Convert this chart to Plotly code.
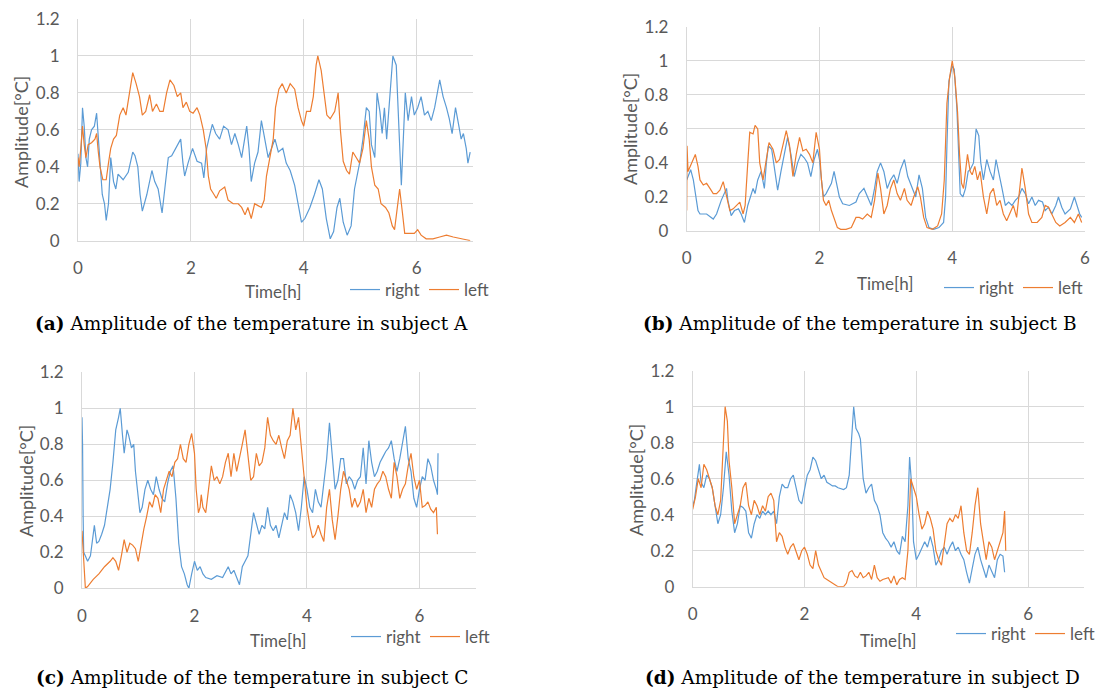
import plotly.graph_objects as go

# ---------------- data ----------------
a_right_t = [0, 0.02, 0.05, 0.08, 0.11, 0.14, 0.17, 0.2, 0.24, 0.29, 0.33, 0.36, 0.39, 0.43, 0.47, 0.5, 0.54, 0.58, 0.63, 0.67, 0.71, 0.8, 0.89, 0.97, 1.01, 1.06, 1.1, 1.14, 1.22, 1.31, 1.36, 1.42, 1.49, 1.54, 1.6, 1.66, 1.73, 1.82, 1.86, 1.89, 1.95, 2.03, 2.11, 2.19, 2.23, 2.28, 2.34, 2.38, 2.44, 2.51, 2.58, 2.66, 2.72, 2.78, 2.84, 2.9, 2.99, 3.03, 3.07, 3.13, 3.19, 3.25, 3.31, 3.37, 3.43, 3.49, 3.55, 3.63, 3.69, 3.76, 3.84, 3.9, 3.96, 4.02, 4.11, 4.19, 4.27, 4.33, 4.4, 4.47, 4.53, 4.59, 4.64, 4.7, 4.77, 4.84, 4.9, 4.99, 5.05, 5.11, 5.16, 5.2, 5.26, 5.3, 5.35, 5.39, 5.43, 5.47, 5.52, 5.58, 5.64, 5.67, 5.7, 5.73, 5.8, 5.85, 5.91, 5.96, 6.02, 6.08, 6.14, 6.2, 6.26, 6.32, 6.41, 6.47, 6.53, 6.58, 6.63, 6.69, 6.75, 6.79, 6.83, 6.88, 6.91, 6.95]
a_right_v = [0.47, 0.32, 0.42, 0.72, 0.62, 0.45, 0.40, 0.55, 0.60, 0.62, 0.69, 0.55, 0.40, 0.25, 0.20, 0.11, 0.20, 0.45, 0.32, 0.28, 0.36, 0.33, 0.37, 0.48, 0.46, 0.40, 0.25, 0.16, 0.25, 0.38, 0.32, 0.28, 0.15, 0.30, 0.45, 0.46, 0.50, 0.55, 0.42, 0.35, 0.42, 0.50, 0.43, 0.42, 0.34, 0.50, 0.58, 0.63, 0.58, 0.55, 0.62, 0.60, 0.52, 0.58, 0.52, 0.45, 0.62, 0.50, 0.32, 0.42, 0.48, 0.65, 0.55, 0.45, 0.50, 0.55, 0.48, 0.50, 0.42, 0.38, 0.30, 0.20, 0.10, 0.12, 0.18, 0.25, 0.33, 0.28, 0.12, 0.01, 0.05, 0.18, 0.23, 0.10, 0.03, 0.08, 0.28, 0.42, 0.55, 0.72, 0.70, 0.52, 0.45, 0.80, 0.70, 0.58, 0.72, 0.55, 0.78, 1.00, 0.95, 0.70, 0.45, 0.30, 0.80, 0.65, 0.78, 0.68, 0.72, 0.78, 0.68, 0.70, 0.65, 0.72, 0.87, 0.78, 0.72, 0.66, 0.58, 0.72, 0.62, 0.55, 0.58, 0.50, 0.42, 0.48]

a_left_t = [0, 0.02, 0.05, 0.08, 0.11, 0.14, 0.18, 0.24, 0.3, 0.33, 0.36, 0.39, 0.44, 0.5, 0.54, 0.58, 0.63, 0.68, 0.74, 0.8, 0.85, 0.89, 0.97, 1.03, 1.09, 1.14, 1.2, 1.27, 1.32, 1.39, 1.45, 1.51, 1.57, 1.63, 1.7, 1.76, 1.82, 1.86, 1.92, 1.98, 2.04, 2.11, 2.16, 2.22, 2.27, 2.31, 2.35, 2.41, 2.45, 2.51, 2.6, 2.66, 2.75, 2.84, 2.9, 2.96, 3.01, 3.07, 3.13, 3.19, 3.25, 3.3, 3.34, 3.4, 3.46, 3.5, 3.56, 3.62, 3.69, 3.76, 3.84, 3.9, 3.96, 4.0, 4.05, 4.12, 4.17, 4.22, 4.25, 4.31, 4.37, 4.41, 4.47, 4.55, 4.61, 4.65, 4.7, 4.76, 4.81, 4.87, 4.93, 4.99, 5.05, 5.11, 5.16, 5.2, 5.26, 5.32, 5.37, 5.45, 5.51, 5.57, 5.61, 5.65, 5.7, 5.75, 5.79, 5.88, 5.96, 6.02, 6.08, 6.17, 6.29, 6.41, 6.53, 6.65, 6.77, 6.88, 6.95]
a_left_v = [0.45, 0.40, 0.50, 0.62, 0.52, 0.45, 0.52, 0.53, 0.55, 0.58, 0.48, 0.40, 0.33, 0.33, 0.42, 0.50, 0.55, 0.57, 0.68, 0.72, 0.68, 0.75, 0.91, 0.85, 0.78, 0.68, 0.70, 0.79, 0.70, 0.74, 0.70, 0.70, 0.80, 0.87, 0.84, 0.78, 0.80, 0.72, 0.75, 0.70, 0.69, 0.72, 0.68, 0.60, 0.50, 0.35, 0.28, 0.25, 0.23, 0.27, 0.29, 0.22, 0.20, 0.20, 0.18, 0.14, 0.18, 0.12, 0.20, 0.19, 0.18, 0.22, 0.35, 0.45, 0.55, 0.72, 0.82, 0.85, 0.80, 0.85, 0.82, 0.72, 0.65, 0.62, 0.70, 0.70, 0.78, 0.95, 1.00, 0.92, 0.78, 0.68, 0.66, 0.70, 0.80, 0.60, 0.43, 0.38, 0.36, 0.48, 0.45, 0.42, 0.50, 0.65, 0.55, 0.40, 0.30, 0.28, 0.20, 0.18, 0.15, 0.08, 0.06, 0.15, 0.28, 0.15, 0.04, 0.04, 0.04, 0.06, 0.03, 0.01, 0.01, 0.02, 0.03, 0.02, 0.01, 0.005, 0.0]

b_right_t = [0, 0.03, 0.06, 0.1, 0.13, 0.17, 0.2, 0.3, 0.4, 0.45, 0.52, 0.57, 0.6, 0.62, 0.67, 0.72, 0.78, 0.82, 0.87, 0.92, 0.96, 1.0, 1.03, 1.07, 1.12, 1.17, 1.2, 1.23, 1.28, 1.32, 1.37, 1.42, 1.47, 1.52, 1.57, 1.62, 1.67, 1.72, 1.77, 1.82, 1.87, 1.92, 1.97, 2.0, 2.03, 2.06, 2.1, 2.14, 2.18, 2.22, 2.25, 2.3, 2.35, 2.45, 2.55, 2.6, 2.67, 2.72, 2.78, 2.83, 2.87, 2.92, 2.97, 3.02, 3.07, 3.12, 3.17, 3.22, 3.28, 3.33, 3.38, 3.45, 3.5, 3.55, 3.6, 3.65, 3.72, 3.8, 3.87, 3.9, 3.92, 3.95, 4.0, 4.03, 4.07, 4.1, 4.12, 4.16, 4.2, 4.24, 4.27, 4.32, 4.36, 4.4, 4.43, 4.47, 4.52, 4.57, 4.62, 4.66, 4.7, 4.75, 4.8, 4.85, 4.9, 4.95, 5.0, 5.05, 5.1, 5.15, 5.2, 5.25, 5.3, 5.36, 5.4, 5.45, 5.5, 5.56, 5.6, 5.65, 5.7, 5.78, 5.84, 5.88, 5.92, 5.95]
b_right_v = [0.30, 0.33, 0.36, 0.30, 0.22, 0.12, 0.10, 0.10, 0.07, 0.10, 0.18, 0.23, 0.25, 0.18, 0.09, 0.12, 0.13, 0.10, 0.05, 0.15, 0.20, 0.25, 0.22, 0.30, 0.35, 0.25, 0.40, 0.50, 0.48, 0.38, 0.24, 0.35, 0.45, 0.55, 0.45, 0.32, 0.40, 0.45, 0.43, 0.40, 0.32, 0.42, 0.48, 0.42, 0.30, 0.20, 0.22, 0.25, 0.28, 0.35, 0.30, 0.20, 0.16, 0.15, 0.17, 0.22, 0.25, 0.20, 0.15, 0.25, 0.35, 0.40, 0.35, 0.25, 0.30, 0.33, 0.28, 0.36, 0.42, 0.32, 0.27, 0.20, 0.33, 0.25, 0.08, 0.02, 0.01, 0.02, 0.05, 0.20, 0.50, 0.88, 0.97, 0.95, 0.72, 0.40, 0.22, 0.20, 0.25, 0.35, 0.36, 0.40, 0.60, 0.56, 0.40, 0.30, 0.42, 0.35, 0.30, 0.42, 0.35, 0.25, 0.15, 0.17, 0.15, 0.18, 0.20, 0.25, 0.22, 0.16, 0.20, 0.15, 0.18, 0.17, 0.12, 0.14, 0.10, 0.15, 0.20, 0.14, 0.10, 0.13, 0.20, 0.15, 0.10, 0.08]

b_left_t = [0, 0.005, 0.02, 0.05, 0.08, 0.13, 0.17, 0.2, 0.25, 0.3, 0.35, 0.4, 0.45, 0.5, 0.55, 0.6, 0.65, 0.7, 0.75, 0.8, 0.85, 0.88, 0.92, 0.95, 1.0, 1.03, 1.07, 1.1, 1.15, 1.2, 1.24, 1.3, 1.35, 1.4, 1.45, 1.5, 1.55, 1.6, 1.65, 1.7, 1.75, 1.8, 1.85, 1.9, 1.95, 2.0, 2.03, 2.06, 2.1, 2.14, 2.18, 2.22, 2.27, 2.32, 2.4, 2.48, 2.55, 2.6, 2.65, 2.72, 2.78, 2.83, 2.88, 2.92, 2.97, 3.02, 3.07, 3.12, 3.17, 3.22, 3.28, 3.32, 3.38, 3.42, 3.48, 3.52, 3.57, 3.62, 3.7, 3.78, 3.84, 3.88, 3.92, 3.96, 4.0, 4.04, 4.08, 4.11, 4.14, 4.17, 4.2, 4.23, 4.27, 4.3, 4.34, 4.38, 4.42, 4.47, 4.52, 4.57, 4.62, 4.67, 4.72, 4.77, 4.82, 4.87, 4.92, 4.97, 5.02, 5.05, 5.1, 5.15, 5.2, 5.28, 5.35, 5.4, 5.45, 5.5, 5.56, 5.62, 5.7, 5.78, 5.84, 5.9, 5.95]
b_left_v = [0.12, 0.50, 0.35, 0.38, 0.40, 0.45, 0.38, 0.30, 0.27, 0.28, 0.25, 0.22, 0.22, 0.24, 0.29, 0.20, 0.12, 0.13, 0.15, 0.17, 0.10, 0.15, 0.40, 0.58, 0.57, 0.62, 0.60, 0.40, 0.30, 0.42, 0.52, 0.48, 0.40, 0.42, 0.50, 0.59, 0.50, 0.32, 0.45, 0.55, 0.47, 0.48, 0.45, 0.40, 0.58, 0.48, 0.30, 0.18, 0.15, 0.18, 0.12, 0.08, 0.02, 0.01, 0.01, 0.02, 0.08, 0.08, 0.07, 0.10, 0.08, 0.18, 0.34, 0.25, 0.10, 0.15, 0.25, 0.30, 0.22, 0.18, 0.25, 0.18, 0.15, 0.20, 0.26, 0.20, 0.08, 0.02, 0.01, 0.03, 0.10, 0.30, 0.75, 0.90, 1.00, 0.90, 0.70, 0.45, 0.28, 0.25, 0.35, 0.45, 0.35, 0.33, 0.38, 0.30, 0.35, 0.20, 0.10, 0.22, 0.25, 0.15, 0.18, 0.10, 0.06, 0.10, 0.15, 0.08, 0.28, 0.37, 0.25, 0.10, 0.05, 0.05, 0.08, 0.15, 0.14, 0.10, 0.05, 0.03, 0.05, 0.08, 0.05, 0.10, 0.05]

c_right_t = [0, 0.01, 0.02, 0.03, 0.06, 0.1, 0.15, 0.2, 0.22, 0.26, 0.3, 0.35, 0.4, 0.45, 0.5, 0.55, 0.6, 0.65, 0.68, 0.72, 0.75, 0.8, 0.83, 0.88, 0.92, 0.95, 1.0, 1.03, 1.07, 1.12, 1.17, 1.22, 1.27, 1.32, 1.37, 1.42, 1.47, 1.52, 1.57, 1.62, 1.67, 1.72, 1.77, 1.82, 1.87, 1.9, 1.95, 2.0, 2.05, 2.1, 2.15, 2.2, 2.3, 2.4, 2.5, 2.55, 2.6, 2.65, 2.7, 2.75, 2.8, 2.85, 2.9, 2.95, 3.0, 3.05, 3.1, 3.15, 3.2, 3.25, 3.3, 3.35, 3.4, 3.45, 3.5, 3.55, 3.6, 3.65, 3.7, 3.75, 3.8, 3.85, 3.9, 3.95, 4.0, 4.05, 4.1, 4.15, 4.2, 4.25, 4.3, 4.35, 4.4, 4.45, 4.5, 4.55, 4.6, 4.65, 4.7, 4.75, 4.8, 4.85, 4.9, 4.95, 5.0, 5.05, 5.1, 5.15, 5.2, 5.25, 5.3, 5.35, 5.4, 5.45, 5.5, 5.55, 5.6, 5.65, 5.7, 5.75, 5.8, 5.85, 5.9, 5.95, 6.0, 6.05, 6.1, 6.15, 6.2, 6.25, 6.3, 6.32, 6.33]
c_right_v = [0.95, 0.80, 0.40, 0.20, 0.18, 0.15, 0.18, 0.30, 0.35, 0.25, 0.26, 0.30, 0.35, 0.45, 0.55, 0.70, 0.88, 0.95, 1.00, 0.85, 0.75, 0.88, 0.85, 0.78, 0.80, 0.65, 0.50, 0.42, 0.45, 0.55, 0.60, 0.55, 0.52, 0.62, 0.55, 0.50, 0.48, 0.58, 0.65, 0.68, 0.50, 0.25, 0.12, 0.08, 0.02, 0.00, 0.08, 0.15, 0.10, 0.12, 0.08, 0.06, 0.05, 0.07, 0.06, 0.09, 0.12, 0.08, 0.10, 0.06, 0.02, 0.12, 0.15, 0.18, 0.30, 0.42, 0.36, 0.30, 0.35, 0.33, 0.45, 0.35, 0.32, 0.35, 0.28, 0.35, 0.42, 0.38, 0.52, 0.48, 0.42, 0.32, 0.45, 0.62, 0.55, 0.45, 0.42, 0.55, 0.48, 0.45, 0.60, 0.72, 0.92, 0.75, 0.55, 0.60, 0.72, 0.72, 0.58, 0.62, 0.60, 0.55, 0.60, 0.62, 0.78, 0.58, 0.82, 0.70, 0.62, 0.65, 0.70, 0.73, 0.76, 0.78, 0.82, 0.72, 0.65, 0.72, 0.80, 0.90, 0.72, 0.65, 0.50, 0.45, 0.55, 0.62, 0.60, 0.72, 0.68, 0.60, 0.55, 0.52, 0.75]

c_left_t = [0, 0.02, 0.04, 0.06, 0.1, 0.15, 0.2, 0.3, 0.4, 0.5, 0.55, 0.6, 0.65, 0.7, 0.75, 0.8, 0.85, 0.9, 0.95, 1.0, 1.05, 1.1, 1.15, 1.2, 1.25, 1.3, 1.35, 1.4, 1.45, 1.5, 1.55, 1.6, 1.65, 1.7, 1.75, 1.8, 1.85, 1.9, 1.95, 2.0, 2.03, 2.07, 2.1, 2.12, 2.15, 2.2, 2.25, 2.3, 2.35, 2.4, 2.45, 2.5, 2.55, 2.6, 2.65, 2.7, 2.75, 2.8, 2.85, 2.9, 2.95, 3.0, 3.05, 3.1, 3.15, 3.2, 3.25, 3.3, 3.35, 3.4, 3.45, 3.5, 3.55, 3.6, 3.65, 3.7, 3.75, 3.8, 3.85, 3.9, 3.95, 4.0, 4.05, 4.1, 4.15, 4.2, 4.25, 4.3, 4.35, 4.4, 4.45, 4.5, 4.55, 4.6, 4.65, 4.7, 4.75, 4.8, 4.85, 4.9, 4.95, 5.0, 5.05, 5.1, 5.15, 5.2, 5.25, 5.3, 5.35, 5.4, 5.45, 5.5, 5.55, 5.6, 5.65, 5.7, 5.75, 5.8, 5.85, 5.9, 5.95, 6.0, 6.05, 6.1, 6.15, 6.2, 6.25, 6.3, 6.32]
c_left_v = [0.32, 0.20, 0.05, 0.00, 0.01, 0.03, 0.05, 0.08, 0.12, 0.15, 0.17, 0.15, 0.10, 0.18, 0.27, 0.20, 0.25, 0.24, 0.22, 0.15, 0.25, 0.33, 0.40, 0.48, 0.45, 0.52, 0.50, 0.42, 0.55, 0.60, 0.65, 0.62, 0.70, 0.72, 0.80, 0.72, 0.70, 0.80, 0.86, 0.75, 0.55, 0.42, 0.45, 0.52, 0.45, 0.42, 0.55, 0.68, 0.60, 0.62, 0.58, 0.62, 0.70, 0.75, 0.62, 0.75, 0.65, 0.72, 0.80, 0.88, 0.75, 0.60, 0.62, 0.75, 0.68, 0.70, 0.78, 0.95, 0.85, 0.82, 0.80, 0.85, 0.78, 0.72, 0.82, 0.85, 1.00, 0.88, 0.95, 0.78, 0.65, 0.45, 0.35, 0.28, 0.30, 0.35, 0.30, 0.26, 0.45, 0.55, 0.38, 0.27, 0.40, 0.55, 0.65, 0.60, 0.55, 0.45, 0.50, 0.45, 0.48, 0.55, 0.42, 0.50, 0.45, 0.55, 0.58, 0.60, 0.65, 0.62, 0.55, 0.50, 0.70, 0.62, 0.50, 0.55, 0.58, 0.68, 0.75, 0.62, 0.55, 0.60, 0.45, 0.46, 0.48, 0.44, 0.42, 0.45, 0.30]

d_right_t = [0, 0.03, 0.06, 0.1, 0.12, 0.15, 0.2, 0.25, 0.3, 0.35, 0.4, 0.45, 0.5, 0.55, 0.6, 0.65, 0.7, 0.75, 0.8, 0.85, 0.9, 0.95, 1.0, 1.05, 1.1, 1.15, 1.2, 1.25, 1.3, 1.35, 1.4, 1.45, 1.5, 1.55, 1.6, 1.65, 1.7, 1.75, 1.8, 1.85, 1.9, 1.95, 2.0, 2.05, 2.1, 2.15, 2.2, 2.25, 2.3, 2.35, 2.4, 2.45, 2.5, 2.55, 2.6, 2.7, 2.75, 2.8, 2.85, 2.88, 2.92, 2.97, 3.0, 3.05, 3.1, 3.15, 3.2, 3.25, 3.3, 3.35, 3.4, 3.45, 3.5, 3.55, 3.6, 3.65, 3.7, 3.75, 3.8, 3.85, 3.88, 3.92, 3.95, 4.0, 4.05, 4.1, 4.15, 4.2, 4.25, 4.3, 4.35, 4.4, 4.45, 4.5, 4.55, 4.6, 4.65, 4.7, 4.75, 4.8, 4.85, 4.9, 4.95, 5.0, 5.05, 5.1, 5.15, 5.2, 5.25, 5.3, 5.35, 5.4, 5.45, 5.5, 5.55, 5.58]
d_right_v = [0.45, 0.48, 0.55, 0.65, 0.68, 0.58, 0.55, 0.62, 0.60, 0.55, 0.45, 0.35, 0.40, 0.55, 0.75, 0.62, 0.42, 0.30, 0.35, 0.45, 0.44, 0.42, 0.30, 0.27, 0.35, 0.40, 0.38, 0.42, 0.40, 0.42, 0.40, 0.42, 0.35, 0.50, 0.57, 0.55, 0.55, 0.60, 0.62, 0.55, 0.48, 0.46, 0.55, 0.62, 0.65, 0.72, 0.70, 0.65, 0.60, 0.62, 0.58, 0.57, 0.56, 0.56, 0.55, 0.54, 0.55, 0.62, 0.85, 1.00, 0.88, 0.85, 0.82, 0.60, 0.52, 0.55, 0.57, 0.48, 0.45, 0.40, 0.30, 0.27, 0.25, 0.22, 0.25, 0.20, 0.18, 0.28, 0.25, 0.45, 0.72, 0.55, 0.25, 0.15, 0.18, 0.22, 0.25, 0.22, 0.28, 0.22, 0.12, 0.15, 0.20, 0.22, 0.18, 0.22, 0.25, 0.20, 0.22, 0.18, 0.15, 0.08, 0.02, 0.10, 0.18, 0.22, 0.15, 0.10, 0.05, 0.12, 0.08, 0.05, 0.15, 0.18, 0.17, 0.08]

d_left_t = [0, 0.05, 0.1, 0.15, 0.2, 0.25, 0.3, 0.35, 0.4, 0.45, 0.5, 0.55, 0.58, 0.62, 0.65, 0.7, 0.75, 0.8, 0.85, 0.9, 0.95, 1.0, 1.05, 1.1, 1.15, 1.2, 1.25, 1.3, 1.35, 1.4, 1.45, 1.5, 1.55, 1.6, 1.65, 1.7, 1.75, 1.8, 1.85, 1.9, 1.95, 2.0, 2.05, 2.1, 2.15, 2.2, 2.25, 2.3, 2.35, 2.4, 2.5, 2.6, 2.7, 2.75, 2.8, 2.85, 2.9, 2.95, 3.0, 3.05, 3.1, 3.15, 3.2, 3.25, 3.3, 3.35, 3.4, 3.5, 3.55, 3.6, 3.65, 3.7, 3.75, 3.8, 3.85, 3.9, 3.95, 4.0, 4.05, 4.1, 4.15, 4.2, 4.25, 4.3, 4.35, 4.4, 4.45, 4.5, 4.55, 4.6, 4.65, 4.7, 4.75, 4.8, 4.85, 4.9, 4.95, 5.0, 5.05, 5.1, 5.15, 5.2, 5.25, 5.3, 5.35, 5.4, 5.45, 5.5, 5.55, 5.58, 5.6]
d_left_v = [0.43, 0.50, 0.60, 0.55, 0.68, 0.65, 0.60, 0.55, 0.45, 0.40, 0.48, 0.80, 1.00, 0.92, 0.70, 0.55, 0.35, 0.40, 0.45, 0.55, 0.58, 0.45, 0.40, 0.48, 0.45, 0.40, 0.45, 0.42, 0.50, 0.52, 0.48, 0.25, 0.30, 0.28, 0.22, 0.18, 0.22, 0.24, 0.20, 0.15, 0.20, 0.22, 0.18, 0.12, 0.10, 0.20, 0.12, 0.08, 0.05, 0.04, 0.02, 0.00, 0.00, 0.02, 0.08, 0.09, 0.06, 0.05, 0.08, 0.05, 0.06, 0.08, 0.04, 0.12, 0.05, 0.03, 0.04, 0.05, 0.02, 0.06, 0.01, 0.04, 0.05, 0.04, 0.20, 0.60, 0.55, 0.50, 0.40, 0.32, 0.35, 0.42, 0.38, 0.32, 0.20, 0.15, 0.12, 0.25, 0.35, 0.38, 0.36, 0.40, 0.38, 0.45, 0.30, 0.20, 0.18, 0.30, 0.45, 0.55, 0.35, 0.25, 0.15, 0.25, 0.22, 0.15, 0.20, 0.25, 0.30, 0.42, 0.20]

y_ticks = [0, 0.2, 0.4, 0.6, 0.8, 1, 1.2]
x_ticks = [0, 2, 4, 6]
captions = ["(a)", "(b)", "(c)", "(d)"]
subjects = ["A", "B", "C", "D"]

BLUE = "#5B9BD5"
ORANGE = "#ED7D31"
GRID = "#d9d9d9"
TXT = "#595959"
FONT = "Lato"

W, H = 1099, 691

# panel geometry in pixels: (x0, x1, y_top, y_bottom, xmax)
panels = [
    (78, 473, 19, 240.7, 7),
    (686.7, 1085, 26.7, 231, 6),
    (82, 475.7, 372.3, 588.3, 7),
    (692.7, 1084, 370.7, 586.7, 7),
]
ytitle_pos = [(21, 132), (630, 129), (26, 481), (636, 480)]
xtitle_pos = [(273, 291), (885, 283), (278, 640), (888, 640)]
legend_pos = [(345, 290), (939, 288), (346, 637), (951, 634)]
caption_pos = [(251, 324), (860, 324), (252, 677), (862, 677)]

series = [
    (a_right_t, a_right_v, a_left_t, a_left_v),
    (b_right_t, b_right_v, b_left_t, b_left_v),
    (c_right_t, c_right_v, c_left_t, c_left_v),
    (d_right_t, d_right_v, d_left_t, d_left_v),
]

fig = go.Figure()
layout = dict(
    width=W, height=H, margin=dict(l=0, r=0, t=0, b=0, autoexpand=False),
    paper_bgcolor="white", plot_bgcolor="white",
    font=dict(family=FONT, color=TXT, size=17),
    annotations=[],
)

for i, (rt, rv, lt, lv) in enumerate(series):
    n = "" if i == 0 else str(i + 1)
    lg = "legend" if i == 0 else f"legend{i + 1}"
    fig.add_trace(go.Scatter(x=rt, y=rv, mode="lines", name="right",
                             line=dict(color=BLUE, width=1.2),
                             xaxis="x" + n, yaxis="y" + n, legend=lg))
    fig.add_trace(go.Scatter(x=lt, y=lv, mode="lines", name="left",
                             line=dict(color=ORANGE, width=1.2),
                             xaxis="x" + n, yaxis="y" + n, legend=lg))
    x0, x1, yt, yb, xmax = panels[i]
    layout["xaxis" + n] = dict(
        domain=[x0 / W, x1 / W], range=[0, xmax], anchor="y" + n,
        tickvals=x_ticks, showgrid=True, gridcolor=GRID, gridwidth=1,
        zeroline=False, showline=True, linecolor=GRID, linewidth=1,
        ticks="", tickfont=dict(family=FONT, size=17, color=TXT),
        ticklabelstandoff=12, fixedrange=True,
    )
    layout["yaxis" + n] = dict(
        domain=[1 - yb / H, 1 - yt / H], range=[0, 1.2], anchor="x" + n,
        tickvals=y_ticks, showgrid=True, gridcolor=GRID, gridwidth=1,
        zeroline=False, showline=True, linecolor=GRID, linewidth=1,
        ticks="", tickfont=dict(family=FONT, size=17, color=TXT),
        ticklabelstandoff=14, fixedrange=True,
    )
    lx, ly = legend_pos[i]
    layout[lg] = dict(
        orientation="h", x=lx / W, y=1 - ly / H, xanchor="left", yanchor="middle",
        xref="container", yref="container", bgcolor="rgba(0,0,0,0)",
        font=dict(family=FONT, size=17, color=TXT),
        itemwidth=30, entrywidth=34, entrywidthmode="pixels",
        tracegroupgap=0, itemclick=False, itemdoubleclick=False,
    )
    tx, ty = ytitle_pos[i]
    layout["annotations"].append(dict(
        text="Amplitude[°C]", x=tx / W, y=1 - ty / H, xref="paper", yref="paper",
        textangle=-90, showarrow=False, xanchor="center", yanchor="middle",
        font=dict(family=FONT, size=18, color=TXT)))
    tx, ty = xtitle_pos[i]
    layout["annotations"].append(dict(
        text="Time[h]", x=tx / W, y=1 - ty / H, xref="paper", yref="paper",
        showarrow=False, xanchor="center", yanchor="middle",
        font=dict(family=FONT, size=17, color=TXT)))
    cx, cy = caption_pos[i]
    layout["annotations"].append(dict(
        text=f"<b>{captions[i]}</b> Amplitude of the temperature in subject {subjects[i]}",
        x=cx / W, y=1 - cy / H, xref="paper", yref="paper",
        showarrow=False, xanchor="center", yanchor="middle",
        font=dict(family="DejaVu Serif", size=18.5, color="#000000")))

fig.update_layout(**layout)
fig.write_html(
    "out.html",
    config={"displayModeBar": False},
    post_script="document.body.style.margin='0';document.body.style.padding='0';"
                "document.body.style.overflow='hidden';",
)
